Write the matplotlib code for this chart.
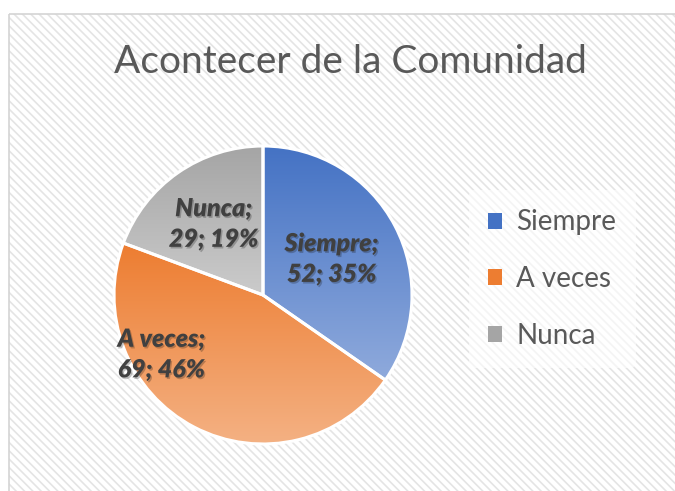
import numpy as np
import matplotlib
matplotlib.use("Agg")
import matplotlib.pyplot as plt
import matplotlib.patheffects as pe
from matplotlib.patches import Rectangle
from matplotlib.colors import LinearSegmentedColormap

# data
categories = ["Siempre", "A veces", "Nunca"]
counts = [52, 69, 29]
percents = [35, 46, 19]

# gradient colours (top -> bottom) per slice
dark_colors = ["#4472C4", "#ED7D31", "#A5A5A5"]
light_colors = ["#8FAADC", "#F4B183", "#CBCBCB"]

plt.rcParams["font.family"] = ["Lato", "DejaVu Sans"]

W, H = 675, 491
fig = plt.figure(figsize=(W / 100, H / 100), dpi=100)

# background panel with diagonal stripes
bg = fig.add_axes([0, 0, 1, 1])
bg.set_xlim(0, W)
bg.set_ylim(H, 0)
bg.axis("off")
bg.add_patch(Rectangle((9, 14), W, H, facecolor="white", edgecolor="none"))
plt.rcParams["hatch.linewidth"] = 1.2
bg.add_patch(Rectangle((9, 14), W, H, facecolor="none", edgecolor="#e4e4e4",
                       lw=0, hatch="\\\\\\\\"))
bg.add_patch(Rectangle((9, 14), W, H, facecolor="none", edgecolor="#d4d4d4", lw=1.2))

bg.text(350, 62, "Acontecer de la Comunidad", ha="center", va="center",
        fontsize=28, color="#595959")

# pie axes
cx, cy, r = 263, 295, 149
ax = fig.add_axes([(cx - r) / W, (H - cy - r) / H, 2 * r / W, 2 * r / H])
wedges, _ = ax.pie(counts, startangle=90, counterclock=False, radius=1,
                   wedgeprops=dict(edgecolor="white", linewidth=2.2, clip_on=False))

grad = np.linspace(0, 1, 256).reshape(-1, 1)
for w, c0, c1 in zip(wedges, dark_colors, light_colors):
    ext = w.get_path().get_extents()
    cmap = LinearSegmentedColormap.from_list("g", [c0, c1])
    im = ax.imshow(grad, cmap=cmap, extent=[ext.x0, ext.x1, ext.y0, ext.y1],
                   origin="upper", aspect="auto", zorder=1)
    im.set_clip_path(w)
    w.set_facecolor("none")
    w.set_zorder(2)
ax.set_xlim(-1, 1)
ax.set_ylim(-1, 1)
ax.axis("off")

# data labels
label_r = [0.52, 0.79, 0.58]
angle_shift = [0, -32, 0]
start = 90
tot = sum(counts)
for i, (cat, n, p) in enumerate(zip(categories, counts, percents)):
    span = 360 * n / tot
    mid = np.radians(start - span / 2 + angle_shift[i])
    start -= span
    ax.text(label_r[i] * np.cos(mid), label_r[i] * np.sin(mid),
            f"{cat};\n{n}; {p}%", ha="center", va="center", fontsize=18,
            fontweight="heavy", fontstyle="italic", color="#404040",
            linespacing=1.4, zorder=5, clip_on=False,
            path_effects=[pe.SimplePatchShadow(offset=(1, -1.2), alpha=0.25),
                          pe.Normal()])

# legend
handles = [Rectangle((0, 0), 1, 1, facecolor=c) for c in dark_colors]
leg = fig.legend(handles, categories, loc="center left",
                 bbox_to_anchor=(455 / W, 1 - 279 / H), fontsize=20,
                 frameon=True, handlelength=0.5, handleheight=0.5,
                 handletextpad=0.5, labelspacing=1.1, borderpad=0.7,
                 labelcolor="#595959")
leg.get_frame().set_facecolor("white")
leg.get_frame().set_alpha(0.6)
leg.get_frame().set_edgecolor("none")

fig.savefig("out.png", dpi=100)
